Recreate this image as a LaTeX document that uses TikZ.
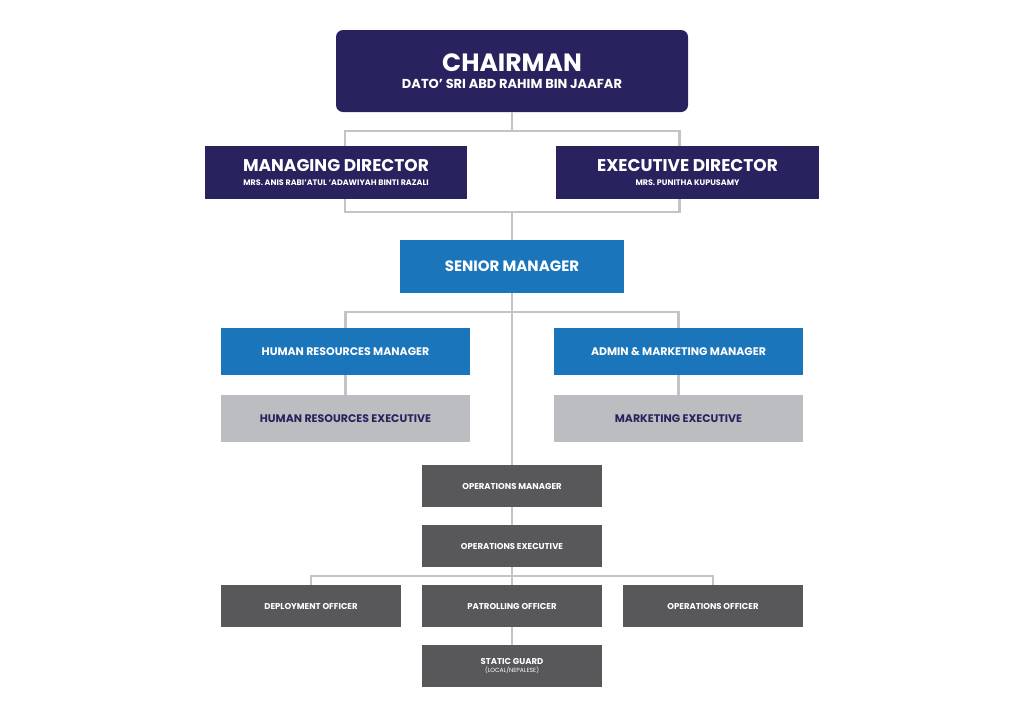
\documentclass[tikz,border=0pt]{standalone}
\usepackage{fontspec}
\setmainfont{Poppins}
\definecolor{navy}{HTML}{28235E}
\definecolor{midblue}{HTML}{1A75BB}
\definecolor{lightgrey}{HTML}{BCBDC0}
\definecolor{darkgrey}{HTML}{58585A}
\definecolor{linkgrey}{HTML}{C4C4C4}
\newcommand\fs[1]{\fontsize{#1}{#1}\selectfont}

\begin{document}
\begin{tikzpicture}[x = 1pt, y = 1pt, yscale = -1,
	box/.style = {inner sep = 0pt, align = center, font = \bfseries},
	top/.style = {box, fill = navy, text = white},
	mid/.style = {box, fill = midblue, text = white, minimum width = 249pt, minimum height = 47pt, font = \bfseries\fs{11pt}},
	pale/.style = {box, fill = lightgrey, text = navy, minimum width = 249pt, minimum height = 47pt, font = \bfseries\fs{11pt}},
	ops/.style = {box, fill = darkgrey, text = white, minimum width = 180pt, minimum height = 42pt, font = \bfseries\fs{8.5pt}},
	link/.style = {draw = linkgrey, line width = 2.5pt}]
	\useasboundingbox [fill = white] (0, 0) rectangle (1024, 724);

	% Leitung
	\node [top, rounded corners = 7pt, minimum width = 352pt, minimum height = 82pt] (chair) at (512, 71)
		{{\fs{25pt}CHAIRMAN}\\[5pt]{\fs{13pt}DATO’ SRI ABD RAHIM BIN JAAFAR}};
	\node [top, minimum width = 262pt, minimum height = 53pt] (md) at (336, 172.5)
		{{\fs{17pt}MANAGING DIRECTOR}\\[2pt]{\fs{8pt}MRS. ANIS RABI’ATUL ‘ADAWIYAH BINTI RAZALI}};
	\node [top, minimum width = 263pt, minimum height = 53pt] (ed) at (687.5, 172.5)
		{{\fs{17pt}EXECUTIVE DIRECTOR}\\[2pt]{\fs{8pt}MRS. PUNITHA KUPUSAMY}};
	\node [box, fill = midblue, text = white, minimum width = 224pt, minimum height = 53pt, font = \bfseries\fs{15pt}] (sm) at (512, 266.5) {SENIOR MANAGER};

	% Abteilungen
	\node [mid] (hrm) at (345.5, 351.5) {HUMAN RESOURCES MANAGER};
	\node [mid] (amm) at (678.5, 351.5) {ADMIN \& MARKETING MANAGER};
	\node [pale] (hre) at (345.5, 418.5) {HUMAN RESOURCES EXECUTIVE};
	\node [pale] (mke) at (678.5, 418.5) {MARKETING EXECUTIVE};

	% Betrieb
	\node [ops] (opm) at (512, 486) {OPERATIONS MANAGER};
	\node [ops] (ope) at (512, 546) {OPERATIONS EXECUTIVE};
	\node [ops] (dep) at (311, 606) {DEPLOYMENT OFFICER};
	\node [ops] (pat) at (512, 606) {PATROLLING OFFICER};
	\node [ops] (opo) at (713, 606) {OPERATIONS OFFICER};
	\node [ops] (sg) at (512, 666) {STATIC GUARD\\[-1pt]{\mdseries\fs{6pt}(LOCAL/NEPALESE)}};

	% Verbindungen
	\coordinate (j1) at (512, 131);
	\coordinate (j2) at (512, 212);
	\coordinate (j3) at (512, 312);
	\coordinate (j4) at (512, 576);
	\draw [link] (chair.south) -- (j1);
	\draw [link] ([xshift = 9pt]md.north) |- (j1) -| ([xshift = -8pt]ed.north);
	\draw [link] ([xshift = 9pt]md.south) |- (j2) -| ([xshift = -8pt]ed.south);
	\draw [link] (j2) -- (sm.north);
	\draw [link] (sm.south) -- (opm.north);
	\draw [link] (hrm.north) |- (j3) -| (amm.north);
	\draw [link] (hrm) -- (hre);
	\draw [link] (amm) -- (mke);
	\draw [link] (opm) -- (ope);
	\draw [link] (ope.south) -- (pat.north);
	\draw [link] (dep.north) |- (j4) -| (opo.north);
	\draw [link] (pat) -- (sg);
\end{tikzpicture}
\end{document}
